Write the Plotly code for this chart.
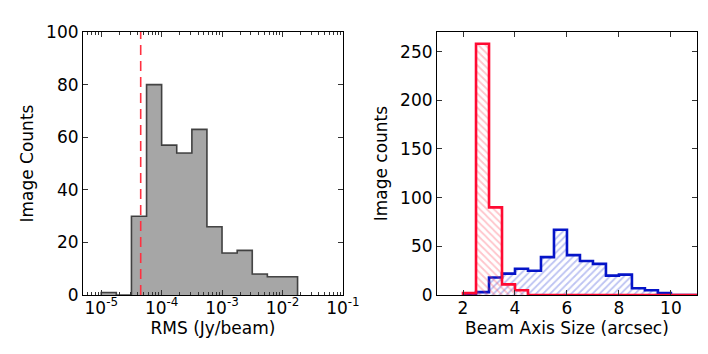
import numpy as np
import plotly.graph_objects as go

# left panel: RMS histogram, bins of 0.25 dex starting at 1e-5
rms_log_edges = [-5.0, -4.75, -4.5, -4.25, -4.0, -3.75, -3.5, -3.25, -3.0,
                 -2.75, -2.5, -2.25, -2.0, -1.75]
rms_counts = [1, 0, 30, 80, 57, 54, 63, 26, 16, 17, 8, 7, 7]
rms_limit = 4.5e-5

# right panel: beam axis sizes, bins of 0.5 arcsec from 2 to 11
beam_edges = [2.0, 2.5, 3.0, 3.5, 4.0, 4.5, 5.0, 5.5, 6.0, 6.5, 7.0, 7.5,
              8.0, 8.5, 9.0, 9.5, 10.0, 10.5, 11.0]
red_counts = [2, 258, 90, 11, 5, 0, 0, 0, 0, 0, 0, 0, 0, 0, 0, 0, 0, 0]
blue_counts = [0, 3, 18, 22, 27, 25, 39, 67, 41, 35, 32, 20, 21, 7, 5, 2, 0, 0]

RED = "#ff0a32"
BLUE = "#0514c8"
FONT = "DejaVu Sans"
FS = 17


def step_xy(edges, counts):
    # closed step outline: down to zero at both ends
    x = [edges[0]] + list(edges) + [edges[-1]]
    y = [0] + list(counts) + [counts[-1], 0]
    return x, y


fig = go.Figure()

# ---- left: stepfilled gray histogram on a log axis
rx, ry = step_xy([10 ** e for e in rms_log_edges], rms_counts)
fig.add_trace(go.Scatter(x=rx, y=ry, mode="lines", line_shape="hv",
                         line=dict(color="rgba(40,40,40,0.85)", width=1.6),
                         fill="tozeroy", fillcolor="#a6a6a6",
                         xaxis="x", yaxis="y", showlegend=False))

# ---- right: hatched step histograms
bx, by = step_xy(beam_edges, blue_counts)
fig.add_trace(go.Scatter(x=bx, y=by, mode="lines", line_shape="hv",
                         line=dict(color=BLUE, width=2.6),
                         fill="tozeroy", fillcolor="rgba(0,0,0,0)",
                         fillpattern=dict(shape="/", fgcolor="rgba(50,70,215,0.65)",
                                          bgcolor="rgba(255,255,255,0)",
                                          size=5, solidity=0.35),
                         xaxis="x2", yaxis="y2", showlegend=False))
tx, ty = step_xy(beam_edges, red_counts)
fig.add_trace(go.Scatter(x=tx, y=ty, mode="lines", line_shape="hv",
                         line=dict(color=RED, width=2.6),
                         fill="tozeroy", fillcolor="rgba(0,0,0,0)",
                         fillpattern=dict(shape="\\", fgcolor="rgba(255,60,80,0.6)",
                                          bgcolor="rgba(255,255,255,0)",
                                          size=5, solidity=0.35),
                         xaxis="x2", yaxis="y2", showlegend=False))

# dashed detection limit line
fig.add_shape(type="line", x0=rms_limit, x1=rms_limit, y0=0, y1=1,
              xref="x", yref="y domain",
              line=dict(color="#ff3040", width=1.6, dash="10px,6px"))

axis_common = dict(showline=True, linecolor="black", linewidth=1.2,
                   mirror="ticks", ticks="inside", ticklen=5, tickwidth=1,
                   tickcolor="#333", showgrid=False, zeroline=False,
                   automargin=False,
                   tickfont=dict(family=FONT, size=FS, color="black"))

minor_vals = [m * 10.0 ** d for d in range(-6, -1) for m in range(2, 10)]
fig.update_layout(
    width=708, height=354,
    margin=dict(l=0, r=0, t=0, b=0),
    paper_bgcolor="white", plot_bgcolor="white",
    font=dict(family=FONT, size=FS, color="black"),
    xaxis=dict(axis_common, type="log", range=[np.log10(5e-6), -1],
               domain=[0.106, 0.473], anchor="y", ticklabelstandoff=-3,
               tickvals=[1e-5, 1e-4, 1e-3, 1e-2, 1e-1],
               ticktext=["10<sup>-5</sup>", "10<sup>-4</sup>", "10<sup>-3</sup>",
                         "10<sup>-2</sup>", "10<sup>-1</sup>"],
               minor=dict(ticks="inside", ticklen=2.5, tickcolor="#333",
                          tickvals=minor_vals),
               title=dict(text="RMS (Jy/beam)", standoff=2,
                          font=dict(family=FONT, size=FS))),
    yaxis=dict(axis_common, range=[0, 100], domain=[0.189, 0.932], anchor="x",
               tickvals=[0, 20, 40, 60, 80, 100],
               title=dict(text="Image Counts", standoff=8,
                          font=dict(family=FONT, size=FS))),
    xaxis2=dict(axis_common, range=[1, 11], domain=[0.606, 0.973], anchor="y2",
                tickvals=[2, 4, 6, 8, 10], ticklabelstandoff=-3,
                title=dict(text="Beam Axis Size (arcsec)", standoff=2,
                           font=dict(family=FONT, size=FS))),
    yaxis2=dict(axis_common, range=[0, 270], domain=[0.189, 0.932], anchor="x2",
                tickvals=[0, 50, 100, 150, 200, 250],
                title=dict(text="Image counts", standoff=8,
                           font=dict(family=FONT, size=FS))),
)

fig.write_html("out.html")
